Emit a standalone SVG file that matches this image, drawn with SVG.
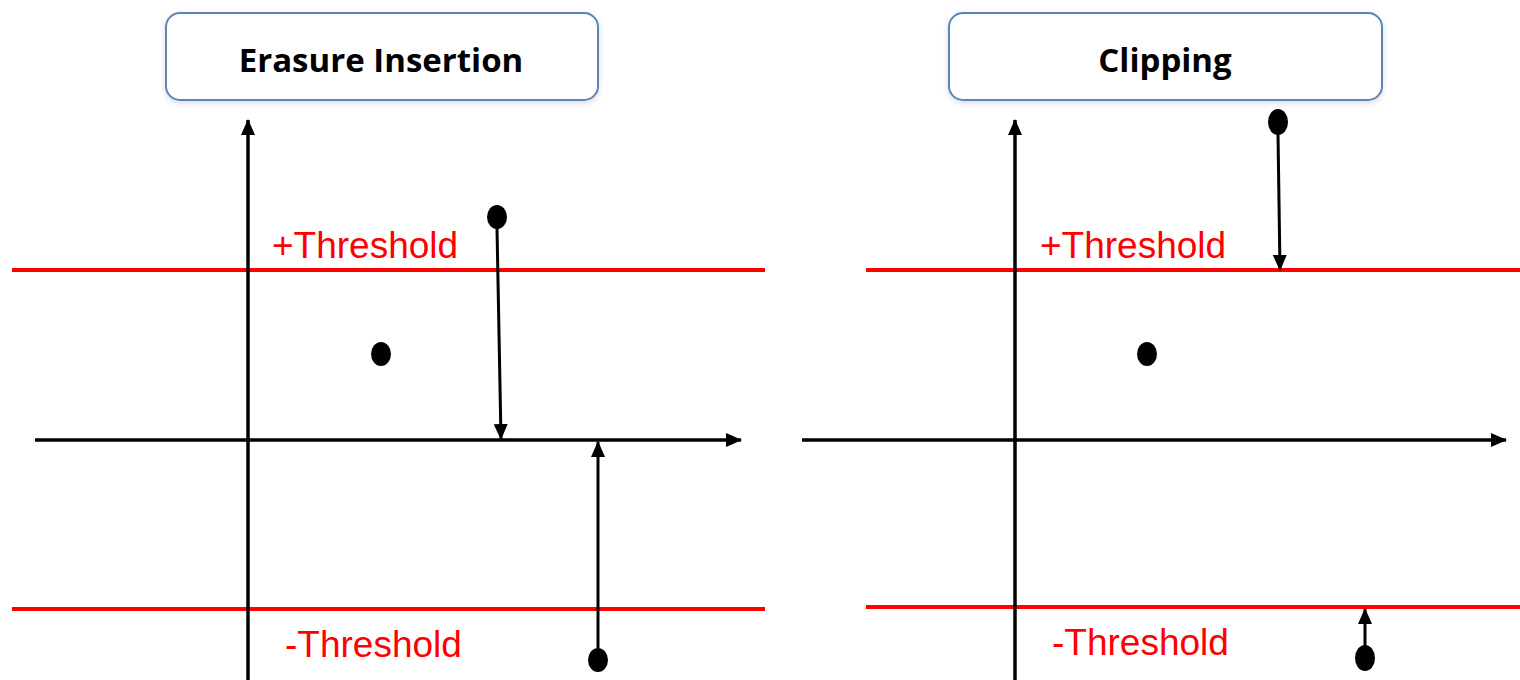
<svg xmlns="http://www.w3.org/2000/svg" width="1520" height="680" viewBox="0 0 1520 680">
<defs>
<marker id="ah" markerUnits="userSpaceOnUse" markerWidth="16" markerHeight="16" viewBox="0 0 16 16" refX="15" refY="8" orient="auto">
<path d="M0,1 L16,8 L0,15 Z" fill="#000"/>
</marker>
<filter id="sh" x="-10%" y="-20%" width="120%" height="150%">
<feGaussianBlur in="SourceAlpha" stdDeviation="3"/>
<feOffset dy="2"/>
<feComponentTransfer><feFuncA type="linear" slope="0.15"/></feComponentTransfer>
<feMerge><feMergeNode/><feMergeNode in="SourceGraphic"/></feMerge>
</filter>
</defs>
<style>
.box{fill:#fff;stroke:#5b87b5;stroke-width:2}
.title{font-family:"Open Sans","Liberation Sans",sans-serif;font-weight:bold;font-size:33px;fill:#000;text-anchor:middle}
.thr{stroke:#ff0000;stroke-width:4;fill:none}
.axis{stroke:#000;stroke-width:3.5;fill:none;marker-end:url(#ah)}
.conn{stroke:#000;stroke-width:3;fill:none;marker-end:url(#ah)}
.lbl{font-family:"Liberation Sans",sans-serif;font-size:37px;fill:#ff0000}
.dot{fill:#000}
</style>
<rect width="1520" height="680" fill="#fff"/>
<g id="title-erasure"><rect class="box" x="166" y="13" width="432" height="87" rx="14" filter="url(#sh)"/><text class="title" x="381" y="72">Erasure Insertion</text></g>
<g id="title-clipping"><rect class="box" x="949" y="13" width="433" height="87" rx="14" filter="url(#sh)"/><text class="title" x="1165" y="72">Clipping</text></g>
<g id="thresholds">
<line class="thr" x1="12" y1="270" x2="765" y2="270"/>
<line class="thr" x1="12" y1="609" x2="765" y2="609"/>
<line class="thr" x1="866" y1="270" x2="1520" y2="270"/>
<line class="thr" x1="866" y1="607" x2="1520" y2="607"/>
<text class="lbl" x="272" y="258">+Threshold</text>
<text class="lbl" x="285" y="657">-Threshold</text>
<text class="lbl" x="1040" y="258">+Threshold</text>
<text class="lbl" x="1052" y="655">-Threshold</text>
</g>
<g id="axes">
<line class="axis" x1="248" y1="680" x2="248" y2="120"/>
<line class="axis" x1="35" y1="440" x2="741" y2="440"/>
<line class="axis" x1="1015" y1="680" x2="1015" y2="120"/>
<line class="axis" x1="802" y1="440" x2="1506" y2="440"/>
</g>
<g id="point-e1"><ellipse class="dot" cx="497" cy="217" rx="10" ry="12"/></g>
<g id="point-e2"><ellipse class="dot" cx="381" cy="354" rx="10" ry="12"/></g>
<g id="point-e3"><ellipse class="dot" cx="598" cy="660" rx="10" ry="12"/></g>
<g id="point-c1"><ellipse class="dot" cx="1278" cy="122" rx="10" ry="13"/></g>
<g id="point-c2"><ellipse class="dot" cx="1147" cy="354" rx="10" ry="12"/></g>
<g id="point-c3"><ellipse class="dot" cx="1365" cy="658" rx="10" ry="13"/></g>
<g id="connectors">
<line class="conn" x1="497" y1="228" x2="501" y2="439"/>
<line class="conn" x1="598" y1="648" x2="598" y2="442"/>
<line class="conn" x1="1278" y1="134" x2="1280" y2="270"/>
<line class="conn" x1="1365" y1="646" x2="1365" y2="609"/>
</g>
</svg>
